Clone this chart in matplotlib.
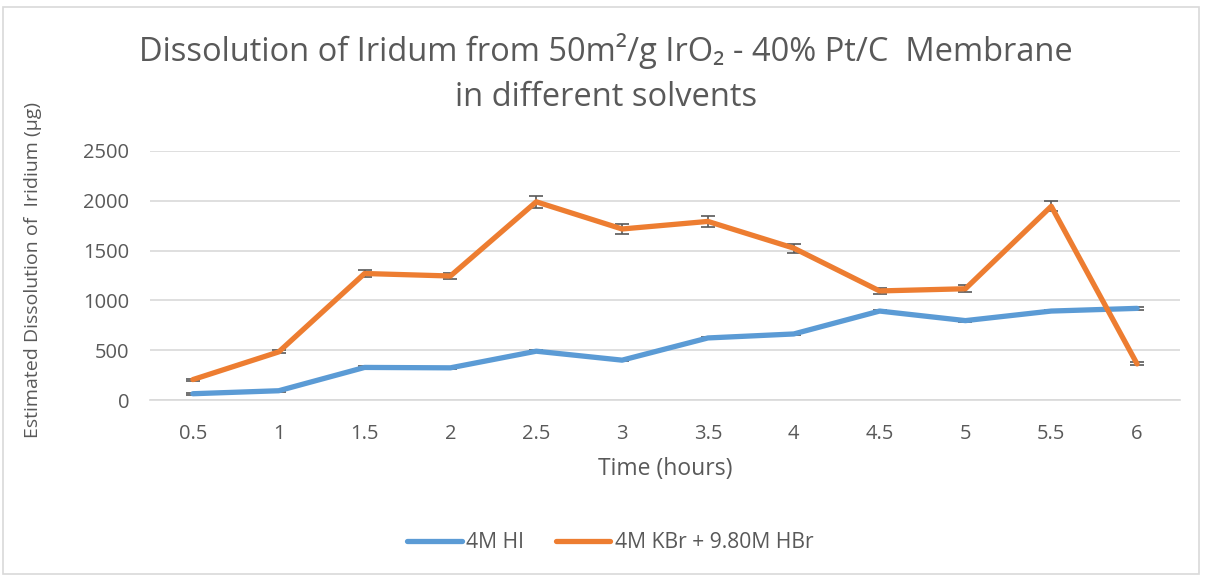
import matplotlib
matplotlib.use("Agg")
import matplotlib.pyplot as plt
from matplotlib.patches import Rectangle
import numpy as np

categories = ["0.5", "1", "1.5", "2", "2.5", "3", "3.5", "4", "4.5", "5", "5.5", "6"]
hi_values = [63, 93, 327, 323, 490, 400, 623, 663, 893, 797, 893, 920]
hi_err = [8, 8, 10, 10, 10, 10, 10, 10, 10, 10, 10, 12]
kbr_values = [205, 483, 1270, 1245, 1990, 1717, 1793, 1525, 1095, 1117, 1945, 362]
kbr_err = [10, 15, 38, 35, 58, 48, 52, 45, 30, 33, 52, 15]
series_names = ["4M HI", "4M KBr + 9.80M HBr"]
yticks = [0, 500, 1000, 1500, 2000, 2500]

W, H = 1205, 576
fig = plt.figure(figsize=(W / 100, H / 100), dpi=100)
fig.patch.set_facecolor("white")
font = "Open Sans"
gray = "#595959"

# outer chart border
fig.add_artist(Rectangle((3 / W, 1 - 574 / H), (1199 - 3) / W, (574 - 7) / H,
                         transform=fig.transFigure, fill=False,
                         edgecolor="#d9d9d9", linewidth=1.2))

ax = fig.add_axes([150 / W, 1 - 400 / H, (1180 - 150) / W, (400 - 151) / H])
x = np.arange(len(categories))
blue = "#5B9BD5"
orange = "#ED7D31"

ax.errorbar(x, hi_values, yerr=hi_err, fmt="none", ecolor=gray, elinewidth=1.2,
            capsize=5, capthick=1.2, zorder=2)
ax.errorbar(x, kbr_values, yerr=kbr_err, fmt="none", ecolor=gray, elinewidth=1.2,
            capsize=5, capthick=1.2, zorder=2)
ax.plot(x, hi_values, color=blue, linewidth=3.8, solid_capstyle="round",
        solid_joinstyle="round", label=series_names[0], zorder=3)
ax.plot(x, kbr_values, color=orange, linewidth=3.8, solid_capstyle="round",
        solid_joinstyle="round", label=series_names[1], zorder=4)

ax.set_xlim(-0.5, len(categories) - 0.5)
ax.set_ylim(0, 2500)
ax.set_yticks(yticks)
ax.set_yticklabels([str(v) for v in yticks], fontsize=14.5, color=gray, family=font)
ax.set_xticks(x)
ax.set_xticklabels(categories, fontsize=14.5, color=gray, family=font)
ax.tick_params(axis="both", length=0)
ax.tick_params(axis="y", pad=15)
ax.tick_params(axis="x", pad=17)
ax.grid(axis="y", color="#d9d9d9", linewidth=1.2)
ax.set_axisbelow(True)
for s in ["top", "right", "left"]:
    ax.spines[s].set_visible(False)
ax.spines["bottom"].set_color("#d9d9d9")
ax.spines["bottom"].set_linewidth(1.2)

fig.text(606 / W, 1 - 51 / H, "Dissolution of Iridum from 50m²/g IrO₂ - 40% Pt/C  Membrane",
         ha="center", va="center", fontsize=23.5, color=gray, family=[font, "DejaVu Sans"])
fig.text(606 / W, 1 - 98 / H, "in different solvents",
         ha="center", va="center", fontsize=23.5, color=gray, family=font)
fig.text(33 / W, 1 - 270 / H, "Estimated Dissolution of  Iridium (µg)", rotation=90,
         ha="center", va="center", fontsize=14, color=gray, family=font)
fig.text(665 / W, 1 - 469 / H, "Time (hours)", ha="center", va="center",
         fontsize=16.5, color=gray, family=font)

leg = fig.legend(loc="center", bbox_to_anchor=(610 / W, 1 - 543 / H), ncol=2,
                 frameon=False, prop={"family": font, "size": 15.2},
                 handlelength=2.6, columnspacing=1.5, handletextpad=0.2)
for t in leg.get_texts():
    t.set_color(gray)

fig.savefig("out.png", dpi=100, facecolor="white")
